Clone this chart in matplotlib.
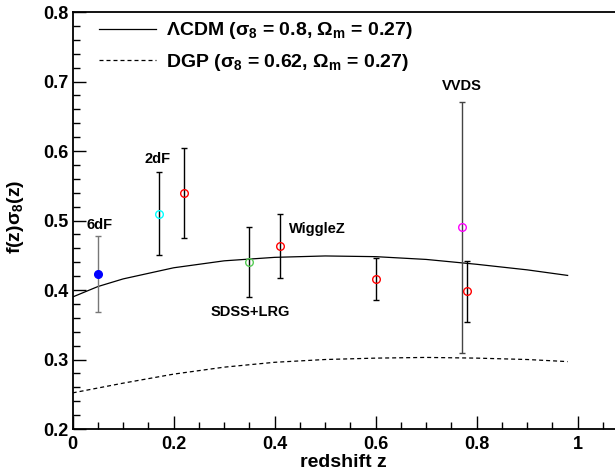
import matplotlib
matplotlib.use("Agg")
import matplotlib.pyplot as plt
from matplotlib.ticker import MultipleLocator

plt.rcParams['font.family'] = ['Liberation Sans', 'DejaVu Sans']
plt.rcParams['font.weight'] = 'bold'
plt.rcParams['mathtext.fontset'] = 'custom'
plt.rcParams['mathtext.rm'] = 'Liberation Sans'
plt.rcParams['mathtext.it'] = 'Liberation Sans'
plt.rcParams['mathtext.bf'] = 'Liberation Sans:bold'

# model curves
z_model = [0, 0.05, 0.1, 0.2, 0.3, 0.4, 0.5, 0.6, 0.7, 0.8, 0.9, 0.98]
lcdm = [0.390, 0.405, 0.416, 0.432, 0.442, 0.447, 0.449, 0.448, 0.444, 0.437, 0.429, 0.421]
dgp = [0.252, 0.259, 0.266, 0.279, 0.289, 0.296, 0.300, 0.302, 0.303, 0.302, 0.300, 0.297]

# measurements
z_data = [0.05, 0.17, 0.22, 0.35, 0.41, 0.60, 0.77, 0.78]
fs8 = [0.423, 0.51, 0.54, 0.44, 0.463, 0.416, 0.49, 0.398]
fs8_err = [0.054, 0.06, 0.065, 0.05, 0.046, 0.03, 0.18, 0.044]
edge_col = ['blue', 'cyan', 'red', '#55cc55', 'red', 'red', 'magenta', 'red']
bar_col = ['#777777', 'black', 'black', 'black', 'black', 'black', '#444444', 'black']
filled = [True, False, False, False, False, False, False, False]

survey_names = ['6dF', '2dF', 'WiggleZ', 'SDSS+LRG', 'VVDS']
name_x = [0.054, 0.169, 0.484, 0.351, 0.771]
name_y = [0.4935, 0.5885, 0.488, 0.368, 0.6935]

fig = plt.figure(figsize=(6.15, 4.73), dpi=100)
ax = fig.add_axes([0.1182, 0.0930, 0.9033, 0.8816])

ax.plot(z_model, lcdm, color='black', lw=0.9,
        label=r'$\Lambda$CDM ($\sigma_{\mathbf{8}}$ = 0.8, $\Omega_{\mathbf{m}}$ = 0.27)')
ax.plot(z_model, dgp, color='black', lw=0.9, dashes=(3.2, 2.4),
        label=r'DGP ($\sigma_{\mathbf{8}}$ = 0.62, $\Omega_{\mathbf{m}}$ = 0.27)')

for i in range(len(z_data)):
    ax.errorbar(z_data[i], fs8[i], yerr=fs8_err[i], fmt='none',
                ecolor=bar_col[i], elinewidth=1.0, capsize=2.5, capthick=1.0)
    ax.plot(z_data[i], fs8[i], 'o', ms=5.5, mew=1.0, mec=edge_col[i],
            mfc=edge_col[i] if filled[i] else 'none')

for name, tx, ty in zip(survey_names, name_x, name_y):
    ax.text(tx, ty, name, ha='center', va='center', fontsize=10.5, fontweight='bold')

ax.set_xlim(0, 1.1)
ax.set_ylim(0.2, 0.8)
ax.xaxis.set_major_locator(MultipleLocator(0.2))
ax.xaxis.set_minor_locator(MultipleLocator(0.05))
ax.yaxis.set_major_locator(MultipleLocator(0.1))
ax.yaxis.set_minor_locator(MultipleLocator(0.02))
ax.xaxis.set_major_formatter(plt.FuncFormatter(lambda v, p: '%g' % round(v, 2)))
ax.yaxis.set_major_formatter(plt.FuncFormatter(lambda v, p: '%g' % round(v, 2)))
ax.tick_params(which='both', direction='in', top=False, right=False, labelsize=13, width=1.0)
ax.tick_params(which='major', length=9.4)
ax.tick_params(which='minor', length=4.7)
ax.tick_params(axis='x', pad=5.0)
ax.tick_params(axis='y', pad=3.0)
for s in ax.spines.values():
    s.set_linewidth(1.3)

ax.set_xlabel('redshift z', fontsize=14, fontweight='bold')
ax.set_ylabel(r'f(z)$\sigma_{\mathbf{8}}$(z)', fontsize=14, fontweight='bold')
ax.xaxis.set_label_coords(0.488, -0.060)
ax.yaxis.set_label_coords(-0.084, 0.51)

ax.legend(loc='upper left', bbox_to_anchor=(0.02, 1.017), frameon=False,
          handlelength=2.93, handletextpad=0.5, labelspacing=0.52, borderpad=0.3,
          prop={'weight': 'bold', 'size': 14})

fig.savefig('out.png', dpi=100)
